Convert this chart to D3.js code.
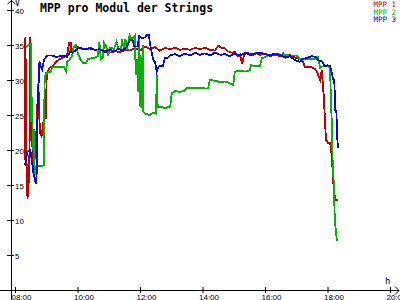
<!DOCTYPE html>
<html>
<head>
<meta charset="utf-8">
<script src="https://cdn.jsdelivr.net/npm/d3@7"></script>
<style>
  body { margin: 0; background: #fff; }
  svg { display: block; font-family: "DejaVu Sans Mono", "Liberation Mono", monospace; }
</style>
</head>
<body>
<div class="container"></div>
<script>
// initial setup
const w = 400;
const h = 300;

const title = 'MPP pro Modul der Strings';
const seriesNames = ['MPP 1', 'MPP 2', 'MPP 3'];
const seriesColors = ['#c00000', '#00b400', '#0000ff'];
const yTicks = [5, 10, 15, 20, 25, 30, 35, 40];
const xTicks = ['08:00', '10:00', '12:00', '14:00', '16:00', '18:00', '20:00'];

// [time, volt]
const mpp1 = [
  ['08:19', 18.5], ['08:20', 36.1], ['08:22', 19], ['08:24', 13], ['08:26', 15], ['08:28', 20],
  ['08:29', 36.2], ['08:31', 30.5], ['08:32', 23], ['08:34', 19.5], ['08:36', 16.5], ['08:37', 18],
  ['08:39', 20], ['08:41', 22.5], ['08:43', 26.5], ['08:45', 29.5], ['08:46', 26], ['08:48', 22.5],
  ['08:51', 22], ['08:53', 23], ['08:55', 24.3], ['08:58', 26], ['08:59', 24.5], ['09:01', 31],
  ['09:03', 31.3], ['09:07', 31.8], ['09:13', 32], ['09:19', 32.6], ['09:26', 33], ['09:34', 33.3],
  ['09:40', 33.5], ['09:44', 35.3], ['09:47', 35.3], ['09:48', 34.2], ['09:53', 34.6], ['09:59', 34.8],
  ['10:05', 34.5], ['10:14', 34.4], ['10:24', 34.6], ['10:34', 34.3], ['10:43', 34.4], ['10:53', 34.1],
  ['11:02', 33.9], ['11:12', 34.1], ['11:22', 34.0], ['11:31', 34.3], ['11:41', 34.2], ['11:50', 34.6],
  ['12:00', 34.2], ['12:10', 34.8], ['12:19', 34.4], ['12:29', 34.7], ['12:38', 34.2], ['12:48', 34.6],
  ['12:58', 34.4], ['13:07', 34.6], ['13:17', 34.3], ['13:26', 34.5], ['13:36', 34.3], ['13:46', 34.6],
  ['13:55', 34.4], ['14:05', 34.6], ['14:14', 34.3], ['14:24', 34.2], ['14:30', 34.9], ['14:37', 34.6],
  ['14:43', 34.5], ['14:49', 34.1], ['14:57', 33.9], ['15:02', 34.0], ['15:08', 33.4], ['15:12', 33.6],
  ['15:16', 32.3], ['15:20', 33.6], ['15:27', 33.9], ['15:35', 33.5], ['15:43', 33.8], ['15:50', 33.6],
  ['16:00', 33.8], ['16:10', 33.4], ['16:19', 33.6], ['16:29', 33.4], ['16:35', 33.8], ['16:40', 33.2],
  ['16:48', 33.6], ['16:58', 33.2], ['17:07', 33.0], ['17:13', 32.6], ['17:17', 31.8], ['17:26', 31.9],
  ['17:36', 31.6], ['17:40', 31.1], ['17:46', 30.0], ['17:49', 31.4], ['17:53', 27.5], ['17:57', 21.5],
  ['18:01', 21], ['18:05', 21], ['18:08', 19.3], ['18:11', 15.5], ['18:13', 13.8], ['18:16', 12.9],
  ['18:20', 12.9]
];

const mpp2 = [
  ['08:21', 34.7], ['08:25', 34.9], ['08:30', 35.1], ['08:31', 24], ['08:33', 27.5], ['08:34', 20],
  ['08:36', 23], ['08:37', 17], ['08:39', 16.5], ['08:41', 17.7], ['08:48', 17.7], ['08:55', 17.8],
  ['08:57', 30.5], ['09:00', 31], ['09:09', 31.2], ['09:11', 31.7], ['09:13', 31.9], ['09:23', 31.9],
  ['09:34', 31.9], ['09:38', 31.3], ['09:40', 32.6], ['09:44', 32.8], ['09:46', 33.1], ['09:49', 33.3],
  ['09:53', 34.8], ['09:57', 35], ['10:01', 33.8], ['10:05', 33.0], ['10:11', 32.4], ['10:16', 32.4],
  ['10:20', 33], ['10:28', 33.1], ['10:34', 33.2], ['10:39', 33.4], ['10:42', 35.4], ['10:45', 32.9],
  ['10:49', 33.2], ['10:51', 35.3], ['10:55', 34.8], ['10:59', 33.5], ['11:02', 34.6], ['11:06', 34.6],
  ['11:10', 34.4], ['11:15', 35.5], ['11:18', 34.5], ['11:24', 34.3], ['11:25', 35.9], ['11:29', 34.5],
  ['11:32', 35.9], ['11:35', 34.3], ['11:40', 36.4], ['11:43', 36.0], ['11:47', 36.0], ['11:50', 36.3],
  ['11:52', 30.7], ['11:55', 33], ['11:57', 28.3], ['11:59', 36], ['12:00', 26.4], ['12:03', 26.2],
  ['12:05', 35], ['12:06', 25.5], ['12:10', 25.2], ['12:19', 25], ['12:25', 25.3], ['12:31', 25.2],
  ['12:32', 30.7], ['12:34', 26.2], ['12:38', 26.2], ['12:48', 26.0], ['12:58', 26.2], ['13:01', 28.1],
  ['13:07', 28.4], ['13:17', 28.3], ['13:26', 28.5], ['13:30', 28.9], ['13:36', 28.9], ['13:46', 28.8],
  ['13:55', 28.9], ['14:05', 28.8], ['14:11', 28.8], ['14:14', 30.0], ['14:24', 29.9], ['14:34', 29.7],
  ['14:43', 29.8], ['14:53', 29.5], ['14:59', 29.3], ['15:02', 31.2], ['15:12', 31.3], ['15:22', 31.2],
  ['15:31', 31.4], ['15:33', 32.1], ['15:41', 32.0], ['15:50', 32.0], ['15:54', 33.1], ['16:00', 33.3],
  ['16:10', 33.6], ['16:19', 33.7], ['16:29', 33.6], ['16:38', 33.6], ['16:48', 33.5], ['17:01', 33.5],
  ['17:07', 33.0], ['17:17', 33.0], ['17:34', 33.0], ['17:36', 33.3], ['17:42', 33.3], ['17:46', 31.7],
  ['17:49', 31.9], ['17:55', 32.0], ['18:01', 32.0], ['18:05', 31.7], ['18:06', 28.6], ['18:08', 24.3],
  ['18:10', 18.1], ['18:12', 15.3], ['18:14', 10], ['18:18', 7.1], ['18:20', 7.1]
];

const mpp3 = [
  ['08:19', 17.8], ['08:21', 18.5], ['08:23', 19.5], ['08:25', 19.8], ['08:29', 20], ['08:31', 19.5],
  ['08:32', 18.3], ['08:34', 17.8], ['08:36', 16.2], ['08:37', 16.5], ['08:39', 15.5], ['08:41', 15.2],
  ['08:42', 18], ['08:43', 24.5], ['08:45', 29], ['08:47', 32.7], ['08:48', 32.2], ['08:50', 31.8],
  ['08:52', 31.5], ['08:54', 32.3], ['08:56', 32.9], ['09:00', 33.3], ['09:03', 33.5], ['09:11', 33.5],
  ['09:19', 33.3], ['09:26', 33.4], ['09:34', 33.5], ['09:40', 33.3], ['09:46', 34], ['09:51', 33.9],
  ['09:59', 34.4], ['10:05', 34.6], ['10:14', 34.4], ['10:24', 34.5], ['10:34', 34.3], ['10:43', 34.4],
  ['10:53', 34.0], ['11:02', 34.3], ['11:12', 34.1], ['11:18', 34.5], ['11:25', 34.2], ['11:33', 34.6],
  ['11:41', 35.8], ['11:47', 35.6], ['11:48', 34.8], ['11:56', 34.8], ['11:58', 36.3], ['12:04', 36.0],
  ['12:10', 36.1], ['12:13', 36.4], ['12:17', 36.4], ['12:19', 35.3], ['12:25', 33.0], ['12:29', 32.5],
  ['12:32', 31.2], ['12:35', 31.8], ['12:38', 32.0], ['12:44', 32.0], ['12:48', 33.2], ['12:54', 33.2],
  ['12:58', 33.5], ['13:07', 33.7], ['13:17', 33.4], ['13:26', 33.8], ['13:36', 33.5], ['13:46', 33.9],
  ['13:55', 33.6], ['14:05', 33.8], ['14:14', 33.5], ['14:24', 33.9], ['14:34', 33.6], ['14:43', 33.7],
  ['14:53', 33.4], ['15:02', 33.8], ['15:12', 33.5], ['15:22', 33.9], ['15:31', 33.6], ['15:41', 33.8],
  ['15:50', 33.9], ['16:00', 33.7], ['16:10', 33.5], ['16:19', 33.8], ['16:29', 33.6], ['16:38', 33.2],
  ['16:48', 33.4], ['16:58', 32.8], ['17:07', 32.6], ['17:13', 33.0], ['17:30', 33.4], ['17:36', 33.3],
  ['17:42', 32.8], ['17:49', 32.7], ['17:55', 32.0], ['18:01', 32.1], ['18:05', 32.0], ['18:07', 31.4],
  ['18:11', 30.1], ['18:13', 30.0], ['18:15', 25.7], ['18:17', 25.5], ['18:19', 21.4], ['18:20', 20.3]
];

const series = [mpp1, mpp2, mpp3];

const parseTime = d3.timeParse('%H:%M');

const svg = d3.select('.container')
              .append('svg')
              .attr('width', w)
              .attr('height', h);

const x = d3.scaleTime()
            .domain([parseTime('08:00'), parseTime('20:00')])
            .range([15, 390]);

const y = d3.scaleLinear()
            .domain([0, 40])
            .range([290, 10]);

const axisX = 11;
const axisY = 290;

// x axis ticks + labels
const xAxis = d3.axisBottom(x)
                .tickValues(xTicks.map(parseTime))
                .tickFormat(d3.timeFormat('%H:%M'))
                .tickSize(3);
const xGroup = svg.append('g')
                  .attr('transform', `translate(0, ${axisY})`)
                  .call(xAxis);
xGroup.select('.domain').remove();
xGroup.selectAll('.tick line').attr('y1', -3).attr('y2', 3).attr('stroke', '#000');
xGroup.selectAll('.tick text')
      .attr('text-anchor', 'start')
      .attr('x', -4)
      .attr('y', 10)
      .attr('dy', null)
      .attr('font-size', 8)
      .attr('font-family', null)
      .attr('fill', '#000');

// y axis ticks + labels
const yAxis = d3.axisRight(y)
                .tickValues(yTicks)
                .tickSize(3);
const yGroup = svg.append('g')
                  .attr('transform', `translate(${axisX}, 0)`)
                  .call(yAxis);
yGroup.select('.domain').remove();
yGroup.selectAll('.tick line').attr('x1', -4).attr('x2', 3).attr('stroke', '#000');
yGroup.selectAll('.tick text')
      .attr('x', 4)
      .attr('dy', null)
      .attr('y', 3)
      .attr('font-size', 8)
      .attr('font-family', null)
      .attr('fill', '#000');

// axis lines with arrows
svg.append('line')
   .attr('x1', axisX + 0.5).attr('x2', axisX + 0.5)
   .attr('y1', 0).attr('y2', h)
   .attr('stroke', '#000');
svg.append('polyline')
   .attr('points', `${axisX - 3.5},4 ${axisX + 0.5},0.5 ${axisX + 4.5},4`)
   .attr('fill', 'none').attr('stroke', '#000');
svg.append('line')
   .attr('x1', 0).attr('x2', w - 1)
   .attr('y1', axisY + 0.5).attr('y2', axisY + 0.5)
   .attr('stroke', '#000');
svg.append('polyline')
   .attr('points', `${w - 5},${axisY - 3.5} ${w - 1},${axisY + 0.5} ${w - 5},${axisY + 4.5}`)
   .attr('fill', 'none').attr('stroke', '#000');

// unit labels
svg.append('text').attr('x', 15).attr('y', 6).attr('font-size', 8).text('V');
svg.append('text').attr('x', 385).attr('y', 284).attr('font-size', 9).text('h');

// lines
const line = d3.line()
               .x(d => x(parseTime(d[0])))
               .y(d => y(d[1]));

svg.append('g')
   .selectAll('path')
   .data(series)
   .enter()
   .append('path')
   .attr('d', line)
   .attr('fill', 'none')
   .attr('stroke', (d, i) => seriesColors[i])
   .attr('stroke-width', 1.8)
   .attr('shape-rendering', 'crispEdges');

// title
svg.append('text')
   .attr('x', 40)
   .attr('y', 12)
   .attr('font-size', 11.5)
   .attr('font-weight', 'bold')
   .text(title);

// legend
svg.append('g')
   .selectAll('text')
   .data(seriesNames)
   .enter()
   .append('text')
   .attr('x', 396)
   .attr('y', (d, i) => 7 + i * 7.5)
   .attr('text-anchor', 'end')
   .attr('font-size', 7.5)
   .attr('fill', (d, i) => seriesColors[i])
   .text(d => d);
</script>
</body>
</html>
